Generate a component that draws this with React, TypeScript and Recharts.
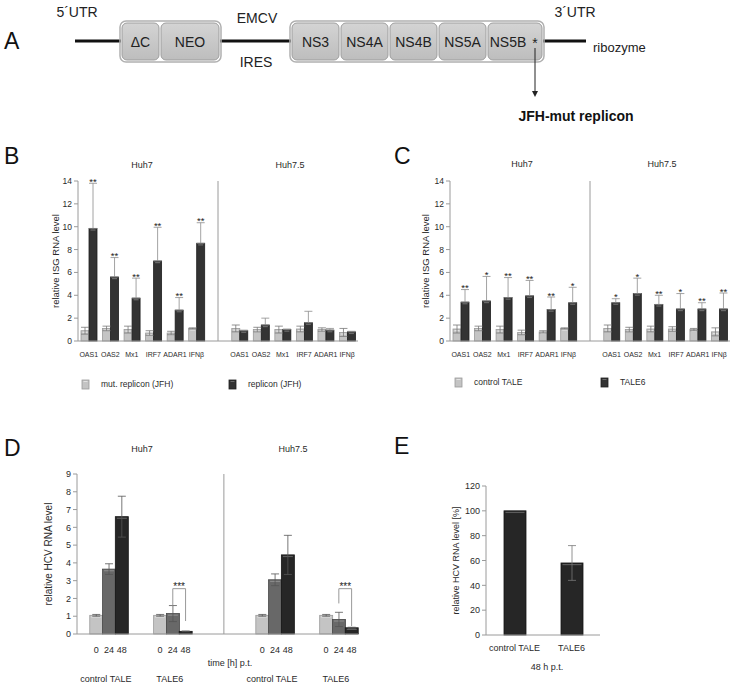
import React from 'react';
import { BarChart, Bar, XAxis, YAxis, ErrorBar, ReferenceLine } from 'recharts';

const FONT = '"Liberation Sans", Arial, sans-serif';

// ---- panel B / C : ISG RNA level ----
const isgGenes = ['OAS1', 'OAS2', 'Mx1', 'IRF7', 'ADAR1', 'IFNβ'];
const cellLines = ['Huh7', 'Huh7.5'];

const bMutHuh7 = [0.9, 1.1, 1.0, 0.7, 0.7, 1.1];
const bMutHuh7Err = [0.3, 0.2, 0.3, 0.2, 0.15, 0.05];
const bRepHuh7 = [9.85, 5.6, 3.75, 7.0, 2.7, 8.55];
const bRepHuh7Err = [3.95, 1.7, 1.75, 2.95, 1.1, 1.8];
const bStarsHuh7 = ['**', '**', '**', '**', '**', '**'];
const bMutHuh75 = [1.1, 1.0, 1.0, 1.05, 1.0, 0.75];
const bMutHuh75Err = [0.3, 0.2, 0.3, 0.25, 0.15, 0.35];
const bRepHuh75 = [0.9, 1.4, 1.0, 1.6, 0.95, 0.8];
const bRepHuh75Err = [0.05, 0.6, 0.05, 1.0, 0.15, 0.05];
const bStarsHuh75 = ['', '', '', '', '', ''];
const bLegend = ['mut. replicon (JFH)', 'replicon (JFH)'];

const cCtrlHuh7 = [1.05, 1.1, 1.0, 0.75, 0.8, 1.1];
const cCtrlHuh7Err = [0.35, 0.2, 0.3, 0.2, 0.1, 0.05];
const cTaleHuh7 = [3.4, 3.5, 3.8, 3.95, 2.75, 3.35];
const cTaleHuh7Err = [1.1, 2.15, 1.75, 1.35, 1.1, 1.35];
const cStarsHuh7 = ['**', '*', '**', '**', '**', '*'];
const cCtrlHuh75 = [1.1, 1.0, 1.05, 1.05, 1.0, 0.8];
const cCtrlHuh75Err = [0.3, 0.2, 0.25, 0.2, 0.1, 0.35];
const cTaleHuh75 = [3.35, 4.15, 3.2, 2.8, 2.8, 2.8];
const cTaleHuh75Err = [0.35, 1.35, 0.8, 1.35, 0.55, 1.4];
const cStarsHuh75 = ['*', '*', '**', '*', '**', '**'];
const cLegend = ['control TALE', 'TALE6'];

const isgTicks = [0, 2, 4, 6, 8, 10, 12, 14];

// ---- panel D : HCV RNA time course ----
const hcvTimes = ['0', '24', '48'];
const hcvTreatments = ['control TALE', 'TALE6'];
const hcvHuh7Ctrl = [1.05, 3.65, 6.6];
const hcvHuh7CtrlErr = [0.05, 0.3, 1.15];
const hcvHuh7Tale = [1.05, 1.15, 0.15];
const hcvHuh7TaleErr = [0.05, 0.45, 0.02];
const hcvHuh75Ctrl = [1.05, 3.05, 4.45];
const hcvHuh75CtrlErr = [0.05, 0.33, 1.1];
const hcvHuh75Tale = [1.05, 0.82, 0.35];
const hcvHuh75TaleErr = [0.05, 0.4, 0.03];
const hcvTicks = [0, 1, 2, 3, 4, 5, 6, 7, 8, 9];

// ---- panel E : 48 h p.t. ----
const eLabels = ['control TALE', 'TALE6'];
const eValues = [100, 58];
const eErrors = [0, 14];
const eTicks = [0, 20, 40, 60, 80, 100, 120];

const LIGHT = { fill: '#c4c4c4', edge: '#9a9a9a', hi: '#e2e2e2' };
const MID = { fill: '#686868', edge: '#464646', hi: '#8a8a8a' };
const DARK = { fill: '#333333', edge: '#1e1e1e', hi: '#6a6a6a' };
const DARKEST = { fill: '#262626', edge: '#151515', hi: '#5c5c5c' };
const timeColors = [LIGHT, MID, DARKEST];

const AXIS = '#9a9a9a';
const TXT = '#2a2a2a';

type Pal = { fill: string; edge: string; hi: string };

function drawBevel(p: any, pal: Pal) {
  const { x, y, width, height } = p;
  if (height == null || !(height > 0) || isNaN(y)) return <g />;
  return (
    <g>
      <rect x={x} y={y} width={width} height={height} fill={pal.fill} stroke={pal.edge} strokeWidth={0.8} />
      {height > 3 && (
        <line x1={x + 1.5} x2={x + width - 1.5} y1={y + 1.6} y2={y + 1.6} stroke={pal.hi} strokeWidth={1.2} />
      )}
    </g>
  );
}

// rotated y-axis title centred in the axis box
const axisTitle = (text: string, size: number, dx = 0) => (props: any) => {
  const vb = props.viewBox || {};
  const cx = vb.x + vb.width / 2 + dx;
  const cy = vb.y + vb.height / 2;
  return (
    <text
      x={cx}
      y={cy}
      transform={`rotate(-90 ${cx} ${cy})`}
      textAnchor="middle"
      dominantBaseline="central"
      fontSize={size}
      fill={TXT}
      fontFamily={FONT}
    >
      {text}
    </text>
  );
};

type IsgRow = {
  key: string;
  gene: string;
  ctrl?: number;
  ctrlErr?: number;
  trt?: number;
  trtErr?: [number, number];
  stars?: string;
};

type IsgGroup = { ctrl: number[]; ctrlErr: number[]; trt: number[]; trtErr: number[]; stars: string[] };

function buildIsgRows(groups: IsgGroup[]): IsgRow[] {
  const rows: IsgRow[] = [];
  groups.forEach((g, gi) => {
    if (gi > 0) rows.push({ key: 'gap', gene: '' });
    isgGenes.forEach((gene, i) => {
      rows.push({
        key: `${cellLines[gi]}-${gene}`,
        gene,
        ctrl: g.ctrl[i],
        ctrlErr: g.ctrlErr[i],
        trt: g.trt[i],
        trtErr: [0, g.trtErr[i]],
        stars: g.stars[i],
      });
    });
  });
  return rows;
}

const bRows = buildIsgRows([
  { ctrl: bMutHuh7, ctrlErr: bMutHuh7Err, trt: bRepHuh7, trtErr: bRepHuh7Err, stars: bStarsHuh7 },
  { ctrl: bMutHuh75, ctrlErr: bMutHuh75Err, trt: bRepHuh75, trtErr: bRepHuh75Err, stars: bStarsHuh75 },
]);
const cRows = buildIsgRows([
  { ctrl: cCtrlHuh7, ctrlErr: cCtrlHuh7Err, trt: cTaleHuh7, trtErr: cTaleHuh7Err, stars: cStarsHuh7 },
  { ctrl: cCtrlHuh75, ctrlErr: cCtrlHuh75Err, trt: cTaleHuh75, trtErr: cTaleHuh75Err, stars: cStarsHuh75 },
]);

// treated bar + significance stars above its error bar
const starredBar = (p: any) => {
  const row: IsgRow = p.payload;
  const shape = drawBevel(p, DARK);
  if (!row || !row.stars || !row.trt || !(p.height > 0)) return shape;
  const errTop = p.y - (p.height * row.trtErr![1]) / row.trt;
  return (
    <g>
      {shape}
      <text x={p.x + p.width / 2} y={errTop + 1.5} textAnchor="middle" fontSize={9.5} fill="#222" fontFamily={FONT}>
        {row.stars}
      </text>
    </g>
  );
};

function minorTicks(max: number, step: number) {
  const out: number[] = [];
  for (let v = 0; v <= max + 1e-9; v += step) out.push(Math.round(v * 100) / 100);
  return out;
}

function IsgChart({ rows, left, top, width, marginLeft, marginRight, yWidth, yLabel }: any) {
  const geneOf = new Map<string, string>(rows.map((r: IsgRow) => [r.key, r.gene]));
  return (
    <div style={{ position: 'absolute', left, top }}>
      <BarChart
        width={width}
        height={240}
        data={rows}
        margin={{ top: 31, right: marginRight, left: marginLeft, bottom: 19 }}
        barGap={0}
        barSize={8}
      >
        <XAxis
          dataKey="key"
          interval={0}
          tickLine={false}
          axisLine={{ stroke: AXIS }}
          tick={(t: any) => (
            <text x={t.x} y={t.y + 8} textAnchor="middle" fontSize={7} fill={TXT} fontFamily={FONT}>
              {geneOf.get(t.payload.value) ?? ''}
            </text>
          )}
        />
        <YAxis
          yAxisId="minor"
          width={0}
          type="number"
          domain={[0, 14]}
          ticks={minorTicks(14, 0.4)}
          tick={false}
          tickSize={2}
          axisLine={false}
          tickLine={{ stroke: AXIS }}
        />
        <YAxis
          type="number"
          domain={[0, 14]}
          ticks={isgTicks}
          width={yWidth}
          tickSize={4}
          axisLine={{ stroke: AXIS }}
          tickLine={{ stroke: AXIS }}
          tick={{ fontSize: 8.5, fill: TXT, fontFamily: FONT }}
          label={axisTitle(yLabel, 9.5, 2)}
        />
        <ReferenceLine x="gap" stroke={AXIS} strokeWidth={1} />
        <Bar dataKey="ctrl" isAnimationActive={false} shape={(p: any) => drawBevel(p, LIGHT)}>
          <ErrorBar dataKey="ctrlErr" width={4} stroke="#777" strokeWidth={0.8} isAnimationActive={false} />
        </Bar>
        <Bar dataKey="trt" isAnimationActive={false} shape={starredBar}>
          <ErrorBar dataKey="trtErr" width={4} stroke="#8c8c8c" strokeWidth={0.8} isAnimationActive={false} />
        </Bar>
      </BarChart>
    </div>
  );
}

// ---- panel D rows: bars laid out in slots with empty spacers ----
type HcvRow = { key: string; time: string; timeIdx: number; treat: string; value?: number; err?: number };

const hcvGroups = [
  { id: 'h7c', vals: hcvHuh7Ctrl, errs: hcvHuh7CtrlErr, treat: hcvTreatments[0] },
  { id: 'h7t', vals: hcvHuh7Tale, errs: hcvHuh7TaleErr, treat: hcvTreatments[1] },
  { id: 'h75c', vals: hcvHuh75Ctrl, errs: hcvHuh75CtrlErr, treat: hcvTreatments[0] },
  { id: 'h75t', vals: hcvHuh75Tale, errs: hcvHuh75TaleErr, treat: hcvTreatments[1] },
];
const spacersBefore = [1, 2, 5, 2];

const hcvRows: HcvRow[] = [];
hcvGroups.forEach((g, gi) => {
  for (let s = 0; s < spacersBefore[gi]; s++) {
    hcvRows.push({ key: `sp${hcvRows.length}`, time: '', timeIdx: -1, treat: '' });
  }
  hcvTimes.forEach((t, i) => {
    hcvRows.push({ key: `${g.id}-${i}`, time: t, timeIdx: i, treat: g.treat, value: g.vals[i], err: g.errs[i] });
  });
});
const hcvRowOf = new Map(hcvRows.map((r) => [r.key, r]));

// *** brackets between 24 h and 48 h TALE6 bars
const hcvBrackets = [
  { from: 'h7t-1', to: 'h7t-2', top: 2.55, leftEnd: 1.6, rightEnd: 0.73 },
  { from: 'h75t-1', to: 'h75t-2', top: 2.55, leftEnd: 1.72, rightEnd: 0.45 },
];

function HcvChart() {
  return (
    <div style={{ position: 'absolute', left: 0, top: 430 }}>
      <BarChart
        width={370}
        height={260}
        data={hcvRows}
        margin={{ top: 44, right: 12, left: 19, bottom: 26 }}
        barCategoryGap={0}
        barGap={0}
      >
        <XAxis
          dataKey="key"
          interval={0}
          tickLine={false}
          axisLine={{ stroke: AXIS }}
          tick={(t: any) => {
            const row = hcvRowOf.get(t.payload.value);
            if (!row || row.timeIdx < 0) return <g />;
            return (
              <g>
                <text x={t.x} y={t.y + 11} textAnchor="middle" fontSize={9} fill={TXT} fontFamily={FONT}>
                  {row.time}
                </text>
                {row.timeIdx === 1 && (
                  <text x={t.x - 3} y={t.y + 40} textAnchor="middle" fontSize={9} fill={TXT} fontFamily={FONT}>
                    {row.treat}
                  </text>
                )}
              </g>
            );
          }}
        />
        <YAxis
          yAxisId="minor"
          width={0}
          type="number"
          domain={[0, 9]}
          ticks={minorTicks(9, 0.2)}
          tick={false}
          tickSize={2}
          axisLine={false}
          tickLine={{ stroke: AXIS }}
        />
        <YAxis
          type="number"
          domain={[0, 9]}
          ticks={hcvTicks}
          width={58}
          tickSize={4}
          axisLine={{ stroke: AXIS }}
          tickLine={{ stroke: AXIS }}
          tick={{ fontSize: 9, fill: TXT, fontFamily: FONT }}
          label={axisTitle('relative HCV RNA level', 10, 0)}
        />
        <ReferenceLine x="sp11" stroke={AXIS} strokeWidth={1} />
        <Bar
          dataKey="value"
          isAnimationActive={false}
          shape={(p: any) => drawBevel(p, timeColors[p.payload?.timeIdx] ?? LIGHT)}
        >
          <ErrorBar dataKey="err" width={4} stroke="#555" strokeWidth={0.8} isAnimationActive={false} />
        </Bar>
        {hcvBrackets.map((b) => (
          <ReferenceLine
            key={b.from + 'h'}
            segment={[{ x: b.from, y: b.top }, { x: b.to, y: b.top }]}
            stroke="#999"
            label={{ value: '***', position: 'top', fontSize: 10, fill: '#222', fontFamily: FONT, offset: -1 }}
          />
        ))}
        {hcvBrackets.map((b) => (
          <ReferenceLine key={b.from + 'l'} segment={[{ x: b.from, y: b.top }, { x: b.from, y: b.leftEnd }]} stroke="#999" />
        ))}
        {hcvBrackets.map((b) => (
          <ReferenceLine key={b.from + 'r'} segment={[{ x: b.to, y: b.top }, { x: b.to, y: b.rightEnd }]} stroke="#999" />
        ))}
      </BarChart>
    </div>
  );
}

const eRows = eLabels.map((label, i) => ({ label, value: eValues[i], err: eErrors[i] }));

function PercentChart() {
  return (
    <div style={{ position: 'absolute', left: 360, top: 430 }}>
      <BarChart width={371} height={260} data={eRows} margin={{ top: 56, right: 131, left: 62, bottom: 25 }}>
        <XAxis
          dataKey="label"
          interval={0}
          tickLine={false}
          axisLine={{ stroke: AXIS }}
          tick={(t: any) => (
            <text x={t.x} y={t.y + 8} textAnchor="middle" fontSize={9} fill={TXT} fontFamily={FONT}>
              {t.payload.value}
            </text>
          )}
        />
        <YAxis
          type="number"
          domain={[0, 120]}
          ticks={eTicks}
          width={64}
          tickSize={4}
          axisLine={{ stroke: AXIS }}
          tickLine={{ stroke: AXIS }}
          tick={{ fontSize: 9, fill: TXT, fontFamily: FONT }}
          label={axisTitle('relative HCV RNA level [%]', 9, 2)}
        />
        <Bar dataKey="value" barSize={22} isAnimationActive={false} shape={(p: any) => drawBevel(p, DARKEST)}>
          <ErrorBar dataKey="err" width={4} stroke="#777" strokeWidth={0.8} isAnimationActive={false} />
        </Bar>
      </BarChart>
    </div>
  );
}

function GenomeMap() {
  const midY = 41;
  const top = 22;
  const h = 39;
  const leftBoxes: [string, number, number][] = [['ΔC', 121, 39], ['NEO', 160, 60]];
  const rightBoxes: [string, number, number][] = [
    ['NS3', 291, 49],
    ['NS4A', 340, 49],
    ['NS4B', 389, 49],
    ['NS5A', 438, 49],
    ['NS5B', 487, 56],
  ];
  const box = ([label, x, w]: [string, number, number], last: boolean) => (
    <g key={label}>
      <rect x={x + 1} y={top + 1} width={w - 2} height={h - 2} rx={5} fill="url(#boxFill)" stroke="#9d9d9d" strokeWidth={1} />
      <text
        x={last ? x + 21 : x + w / 2}
        y={midY + 1}
        textAnchor="middle"
        dominantBaseline="central"
        fontSize={14}
        fill="#222"
        fontFamily={FONT}
      >
        {label}
      </text>
    </g>
  );
  return (
    <svg width={731} height={140} style={{ position: 'absolute', left: 0, top: 0 }}>
      <defs>
        <linearGradient id="boxFill" x1="0" y1="0" x2="0" y2="1">
          <stop offset="0" stopColor="#d4d4d4" />
          <stop offset="1" stopColor="#bdbdbd" />
        </linearGradient>
      </defs>
      <line x1={75} x2={121} y1={midY} y2={midY} stroke="#111" strokeWidth={3} />
      <line x1={220} x2={291} y1={midY} y2={midY} stroke="#111" strokeWidth={3} />
      <line x1={543} x2={586} y1={midY} y2={midY} stroke="#111" strokeWidth={3} />
      <rect x={120} y={top - 1} width={101} height={h + 2} rx={6} fill="none" stroke="#b0b0b0" strokeWidth={1.5} />
      <rect x={290} y={top - 1} width={254} height={h + 2} rx={6} fill="none" stroke="#b0b0b0" strokeWidth={1.5} />
      {leftBoxes.map((b) => box(b, false))}
      {rightBoxes.map((b, i) => box(b, i === rightBoxes.length - 1))}
      <text x={535} y={43} textAnchor="middle" dominantBaseline="central" fontSize={14} fill="#222" fontFamily={FONT}>
        *
      </text>
      <line x1={535} x2={535} y1={48} y2={92} stroke="#222" strokeWidth={1} />
      <path d="M532,91 L538,91 L535,97 Z" fill="#222" />
      <text x={576} y={116} textAnchor="middle" dominantBaseline="central" fontSize={14} fontWeight="bold" fill="#111" fontFamily={FONT}>
        JFH-mut replicon
      </text>
      <text x={77} y={12} textAnchor="middle" dominantBaseline="central" fontSize={14} fill="#222" fontFamily={FONT}>
        5´UTR
      </text>
      <text x={257} y={18} textAnchor="middle" dominantBaseline="central" fontSize={14} fill="#222" fontFamily={FONT}>
        EMCV
      </text>
      <text x={256} y={62} textAnchor="middle" dominantBaseline="central" fontSize={14} fill="#222" fontFamily={FONT}>
        IRES
      </text>
      <text x={575} y={12} textAnchor="middle" dominantBaseline="central" fontSize={14} fill="#222" fontFamily={FONT}>
        3´UTR
      </text>
      <text x={593} y={47} dominantBaseline="central" fontSize={13} fill="#222" fontFamily={FONT}>
        ribozyme
      </text>
    </svg>
  );
}

function LegendItem({ x, y, pal, label }: { x: number; y: number; pal: Pal; label: string }) {
  return (
    <g>
      <rect x={x} y={y - 4} width={7} height={9} fill={pal.fill} stroke={pal.edge} strokeWidth={0.8} />
      <line x1={x + 1.5} x2={x + 5.5} y1={y - 2.5} y2={y - 2.5} stroke={pal.hi} strokeWidth={1} />
      <text x={x + 19} y={y} dominantBaseline="central" fontSize={8.5} fill={TXT} fontFamily={FONT}>
        {label}
      </text>
    </g>
  );
}

function Overlay() {
  const letter = (t: string, x: number, y: number) => (
    <text x={x} y={y} dominantBaseline="central" fontSize={23} fill="#111" fontFamily={FONT}>
      {t}
    </text>
  );
  const title = (t: string, x: number, y: number) => (
    <text x={x} y={y} textAnchor="middle" dominantBaseline="central" fontSize={9} fill={TXT} fontFamily={FONT}>
      {t}
    </text>
  );
  return (
    <svg width={731} height={683} style={{ position: 'absolute', left: 0, top: 0, pointerEvents: 'none' }}>
      {letter('A', 4, 41)}
      {letter('B', 4, 156)}
      {letter('C', 394, 156)}
      {letter('D', 4, 448)}
      {letter('E', 394, 446)}
      {title(cellLines[0], 142, 165)}
      {title(cellLines[1], 290, 165)}
      {title(cellLines[0], 522, 164)}
      {title(cellLines[1], 662, 164)}
      {title(cellLines[0], 142, 449)}
      {title(cellLines[1], 293, 449)}
      {title('time [h] p.t.', 230, 663)}
      {title('48 h p.t.', 547, 667)}
      <LegendItem x={82} y={384} pal={LIGHT} label={bLegend[0]} />
      <LegendItem x={229} y={384} pal={DARK} label={bLegend[1]} />
      <LegendItem x={455} y={382} pal={LIGHT} label={cLegend[0]} />
      <LegendItem x={601} y={382} pal={DARK} label={cLegend[1]} />
    </svg>
  );
}

export default function App() {
  return (
    <div
      style={{
        position: 'absolute',
        left: 0,
        top: 0,
        width: 731,
        height: 683,
        background: '#fff',
        overflow: 'hidden',
        fontFamily: FONT,
      }}
    >
      <GenomeMap />
      <IsgChart rows={bRows} left={0} top={150} width={370} marginLeft={28} marginRight={12} yWidth={50} yLabel="relative ISG RNA level" />
      <IsgChart rows={cRows} left={360} top={150} width={371} marginLeft={36} marginRight={1} yWidth={54} yLabel="relative ISG RNA level" />
      <HcvChart />
      <PercentChart />
      <Overlay />
    </div>
  );
}
